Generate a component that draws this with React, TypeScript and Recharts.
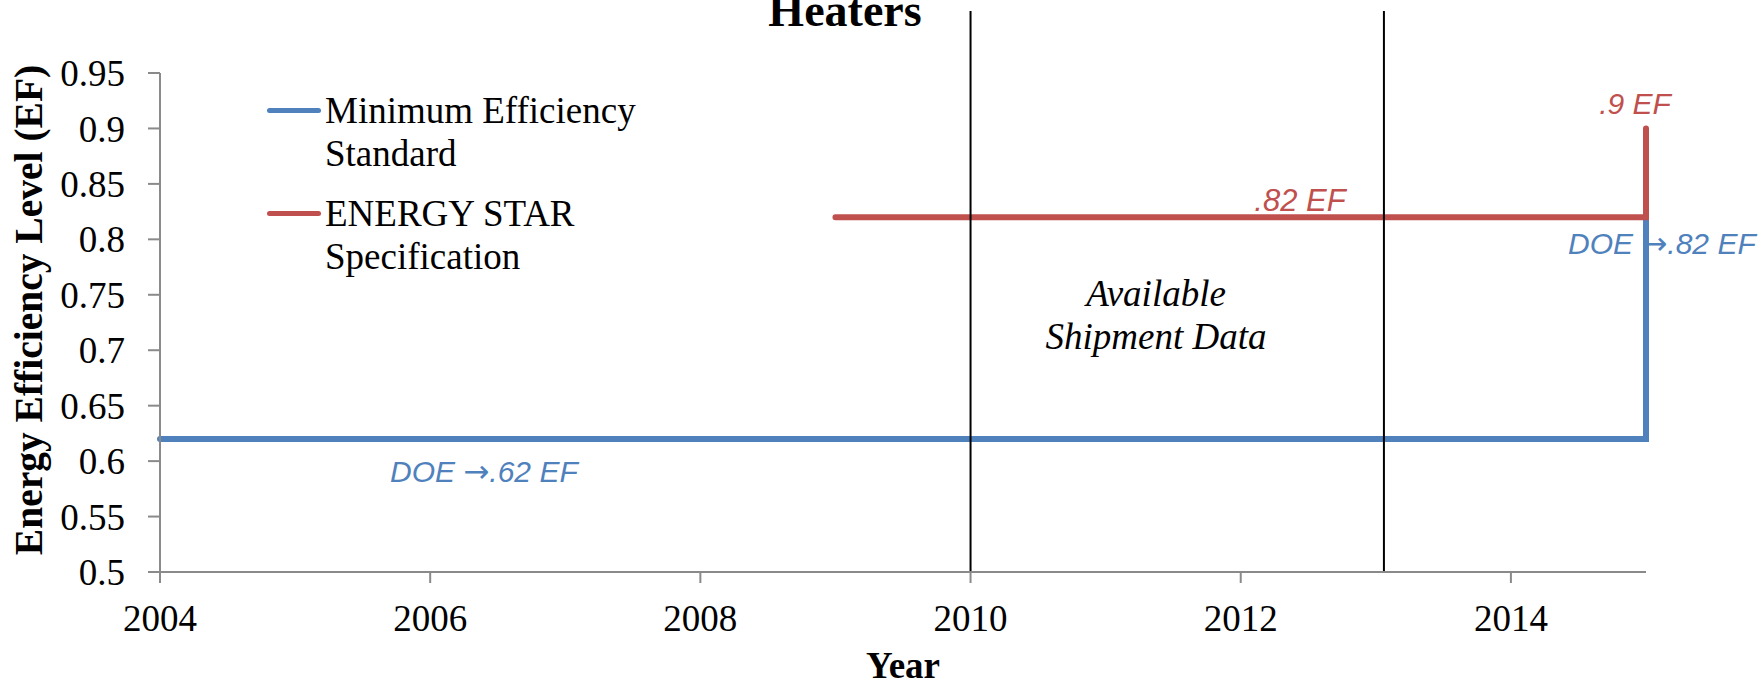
import React from "react";
import {
  Legend,
  Line,
  LineChart,
  ReferenceLine,
  XAxis,
  YAxis,
} from "recharts";

// values
const yearTicks = [2004, 2006, 2008, 2010, 2012, 2014];
const levelTicks = [0.5, 0.55, 0.6, 0.65, 0.7, 0.75, 0.8, 0.85, 0.9, 0.95];

const seriesNames = ["Minimum Efficiency Standard", "ENERGY STAR Specification"];

const minStdYears = [2004, 2015, 2015];
const minStdLevels = [0.62, 0.62, 0.82];

const starYears = [2009, 2015, 2015];
const starLevels = [0.82, 0.82, 0.9];

const shipmentBounds = [2010, 2013.06];
const shipmentSpan = [0.5, 1.006];

const BLUE = "#4F81BD";
const RED = "#C0504D";
const AXIS = "#8a8a8a";
const SERIF = "'Liberation Serif', serif";
const SANS = "'Liberation Sans', sans-serif";

const zip = (xs: number[], ys: number[]) => xs.map((x, i) => ({ x, y: ys[i] }));

const minStdData = zip(minStdYears, minStdLevels);
const starData = zip(starYears, starLevels);

function LegendBox({ payload }: any) {
  const items = [...(payload || [])].sort(
    (a: any, b: any) => seriesNames.indexOf(a.value) - seriesNames.indexOf(b.value)
  );
  return (
    <div style={{ fontFamily: SERIF, fontSize: 37, lineHeight: "43px", color: "#000" }}>
      {items.map((p: any, i: number) => (
        <div
          key={p.value}
          style={{ display: "flex", alignItems: "flex-start", marginBottom: i === 0 ? 17 : 0 }}
        >
          <div
            style={{
              width: 54,
              height: 5,
              borderRadius: 3,
              background: p.color,
              marginTop: 19,
              marginRight: 4,
            }}
          />
          <div style={{ width: 340 }}>{p.value}</div>
        </div>
      ))}
    </div>
  );
}

// the arrow in the DOE notes is drawn bigger than the italic text around it
function DoeNote({ x, y, level }: { x: number; y: number; level: string }) {
  return (
    <text x={x} y={y} fontFamily={SANS} fontStyle="italic" fontSize={30} fill={BLUE}>
      DOE{" "}
      <tspan fontFamily="'DejaVu Sans', sans-serif" fontStyle="normal" fontSize={31}>
        →
      </tspan>
      {level}
    </text>
  );
}

export default function App() {
  const tick = { fontFamily: SERIF, fontSize: 37, fill: "#000" };
  return (
    <div style={{ position: "absolute", left: 0, top: 0, width: 1764, height: 685, background: "#fff" }}>
      <LineChart
        width={1764}
        height={685}
        margin={{ top: 73, right: 118, bottom: 53, left: 100 }}
      >
        <XAxis
          type="number"
          dataKey="x"
          domain={[2004, 2015]}
          ticks={yearTicks}
          height={60}
          stroke={AXIS}
          strokeWidth={2}
          tickSize={11}
          tickMargin={22}
          tick={tick}
        />
        <YAxis
          type="number"
          dataKey="y"
          domain={[0.5, 0.95]}
          ticks={levelTicks}
          width={60}
          stroke={AXIS}
          strokeWidth={2}
          tickSize={12}
          tickMargin={23}
          tick={tick}
        />
        <Legend
          layout="vertical"
          align="center"
          verticalAlign="middle"
          content={<LegendBox />}
          wrapperStyle={{ position: "absolute", left: 267, top: 88.5, width: 420 }}
        />
        <Line
          data={minStdData}
          dataKey="y"
          name={seriesNames[0]}
          type="linear"
          stroke={BLUE}
          strokeWidth={6}
          strokeLinecap="round"
          dot={false}
          isAnimationActive={false}
        />
        <Line
          data={starData}
          dataKey="y"
          name={seriesNames[1]}
          type="linear"
          stroke={RED}
          strokeWidth={6}
          strokeLinecap="round"
          dot={false}
          isAnimationActive={false}
        />
        {shipmentBounds.map((yr) => (
          <ReferenceLine
            key={yr}
            segment={[
              { x: yr, y: shipmentSpan[0] },
              { x: yr, y: shipmentSpan[1] },
            ]}
            stroke="#000"
            strokeWidth={2}
            ifOverflow="visible"
          />
        ))}
      </LineChart>
      <svg
        width={1764}
        height={685}
        style={{ position: "absolute", left: 0, top: 0, pointerEvents: "none" }}
      >
        <text x={845} y={26} textAnchor="middle" fontFamily={SERIF} fontWeight="bold" fontSize={46}>
          Heaters
        </text>
        <text
          transform="translate(42,310) rotate(-90)"
          textAnchor="middle"
          fontFamily={SERIF}
          fontWeight="bold"
          fontSize={39.5}
        >
          Energy Efficiency Level (EF)
        </text>
        <text x={903} y={678} textAnchor="middle" fontFamily={SERIF} fontWeight="bold" fontSize={37}>
          Year
        </text>
        <text x={1156} y={306} textAnchor="middle" fontFamily={SERIF} fontStyle="italic" fontSize={37}>
          Available
        </text>
        <text x={1156} y={349} textAnchor="middle" fontFamily={SERIF} fontStyle="italic" fontSize={37}>
          Shipment Data
        </text>
        <text x={1300} y={211} textAnchor="middle" fontFamily={SANS} fontStyle="italic" fontSize={31} fill={RED}>
          .82 EF
        </text>
        <text x={1635} y={114} textAnchor="middle" fontFamily={SANS} fontStyle="italic" fontSize={30} fill={RED}>
          .9 EF
        </text>
        <DoeNote x={1568} y={254} level=".82 EF" />
        <DoeNote x={390} y={482} level=".62 EF" />
      </svg>
    </div>
  );
}
